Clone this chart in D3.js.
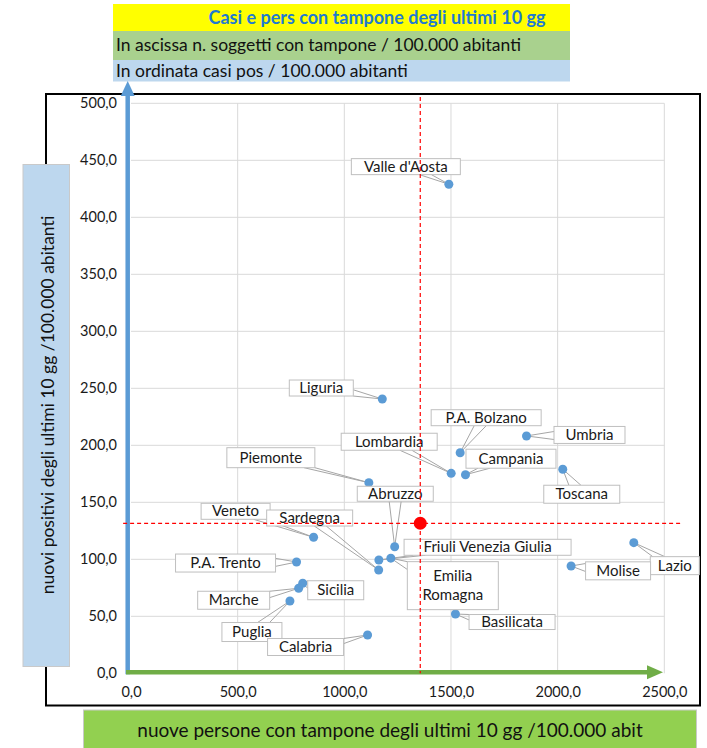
<!DOCTYPE html>
<html>
<head>
<meta charset="utf-8">
<script src="https://cdn.jsdelivr.net/npm/d3@7"></script>
<style>
  body { margin: 0; background: #fff; }
  svg { font-family: Lato, "Open Sans", sans-serif; }
</style>
</head>
<body>
<script>
// regioni, tamponi /100.000 ab (x), positivi /100.000 ab (y)
const regioni = [
  "Valle d'Aosta", "Liguria", "P.A. Bolzano", "Lombardia", "Campania",
  "Umbria", "Toscana", "Lazio", "Molise", "Basilicata", "Piemonte",
  "Abruzzo", "Veneto", "P.A. Trento", "Friuli Venezia Giulia",
  "Emilia Romagna", "Sardegna", "Sicilia", "Marche", "Puglia", "Calabria"
];
const tamponi = [
  1490, 1178, 1543, 1501, 1568, 1854, 2024, 2357, 2063, 1521, 1115,
  1236, 856, 776, 1162, 1218, 1161, 805, 786, 745, 1109
];
const positivi = [
  429, 240.6, 193.5, 175.4, 174.2, 208.2, 179, 114.6, 94.1, 52, 167.2,
  111, 119.3, 97.6, 99.4, 101, 90.6, 79, 74.6, 63.4, 33.6
];
// media nazionale (punto rosso)
const mediaTamponi = 1356;
const mediaPositivi = 131.6;

const xTicks = [0, 500, 1000, 1500, 2000, 2500];
const yTicks = [0, 50, 100, 150, 200, 250, 300, 350, 400, 450, 500];

// posizione dei box etichetta rispetto al punto: [dx, dy, w, h] in px
const labelLayout = {
  "Valle d'Aosta": [-43, -17.6, 109, 16],
  "Liguria": [-61, -11, 64, 16],
  "Lombardia": [-62, -31.6, 96, 17],
  "Piemonte": [-98, -25, 88, 20],
  "Abruzzo": [0.6, -53, 76, 15],
  "Veneto": [-78, -26, 69, 16],
  "Sardegna": [-69, -52, 86, 16],
  "P.A. Bolzano": [26, -35, 110, 16],
  "Umbria": [63, -1, 71, 17],
  "Campania": [45.5, -16, 90, 19],
  "Toscana": [19, 25, 76, 18],
  "Friuli Venezia Giulia": [108.7, -12.7, 167, 16],
  "Emilia Romagna": [62, 27.5, 91, 48],
  "Basilicata": [56.6, 8, 86, 15],
  "Molise": [47, 4.8, 65, 18],
  "Lazio": [41, 23, 49, 18],
  "P.A. Trento": [-71, 1, 100, 18],
  "Sicilia": [33, 7, 56, 19],
  "Marche": [-65, 12, 72, 18],
  "Puglia": [-38, 31, 60, 19],
  "Calabria": [-62, 12, 76, 17]
};

const W = 707, H = 748;
const fmt = (v) => d3.format(".1f")(v).replace(".", ",");

const svg = d3.select("body").append("svg")
  .attr("width", W).attr("height", H);

const x = d3.scaleLinear().domain([0, 2500]).range([131, 664.3]);
const y = d3.scaleLinear().domain([0, 500]).range([673.3, 103.3]);

// header bands
svg.append("rect").attr("x", 113).attr("y", 4).attr("width", 457).attr("height", 27).attr("fill", "#ffff00");
svg.append("rect").attr("x", 113).attr("y", 31).attr("width", 457).attr("height", 29).attr("fill", "#a9d18e");
svg.append("rect").attr("x", 113).attr("y", 60).attr("width", 457).attr("height", 21.5).attr("fill", "#bdd7ee");
svg.append("text").attr("x", 377).attr("y", 23.5).attr("text-anchor", "middle")
  .attr("font-size", 18).attr("font-weight", "bold").attr("fill", "#1f7ad0")
  .text("Casi e pers con tampone degli ultimi 10 gg");
svg.append("text").attr("x", 116).attr("y", 51).attr("font-size", 17.5).attr("fill", "#111")
  .text("In ascissa n. soggetti con tampone / 100.000 abitanti");
svg.append("text").attr("x", 116).attr("y", 76.5).attr("font-size", 17.5).attr("fill", "#111")
  .text("In ordinata casi pos / 100.000 abitanti");

// chart frame
svg.append("rect").attr("x", 46).attr("y", 94).attr("width", 654).attr("height", 611.5)
  .attr("fill", "none").attr("stroke", "#000").attr("stroke-width", 2);

// y axis title box
svg.append("rect").attr("x", 23).attr("y", 164.5).attr("width", 46.5).attr("height", 502)
  .attr("fill", "#bdd7ee").attr("stroke", "#c9c9c9");
svg.append("text").attr("transform", "translate(53.5,405) rotate(-90)")
  .attr("text-anchor", "middle").attr("font-size", 17.5).attr("fill", "#111")
  .text("nuovi positivi degli ultimi 10 gg /100.000 abitanti");

// x axis title box
svg.append("rect").attr("x", 83.5).attr("y", 710).attr("width", 613).attr("height", 42)
  .attr("fill", "#92d050").attr("stroke", "#c9c9c9");
svg.append("text").attr("x", 390).attr("y", 737).attr("text-anchor", "middle")
  .attr("font-size", 19).attr("fill", "#111")
  .text("nuove persone con tampone degli ultimi 10 gg /100.000 abit");

// gridlines
const grid = svg.append("g").attr("stroke", "#d9d9d9").attr("stroke-width", 1);
grid.selectAll(".gy").data(yTicks.filter((d) => d > 0)).join("line")
  .attr("x1", x(0)).attr("x2", x(2500))
  .attr("y1", (d) => y(d)).attr("y2", (d) => y(d));
grid.selectAll(".gx").data(xTicks.filter((d) => d > 0)).join("line")
  .attr("y1", y(0)).attr("y2", y(500))
  .attr("x1", (d) => x(d)).attr("x2", (d) => x(d));

// tick labels
const yAxis = d3.axisLeft(y).tickValues(yTicks).tickFormat(fmt).tickSize(0).tickPadding(0);
svg.append("g").attr("transform", `translate(${x(0) - 14},0)`).call(yAxis)
  .call((g) => g.select(".domain").remove())
  .call((g) => g.selectAll("text").attr("font-size", 14.5).attr("fill", "#1a1a1a")
    .attr("font-family", "Lato, 'Open Sans', sans-serif"));

const xAxis = d3.axisBottom(x).tickValues(xTicks).tickFormat(fmt).tickSize(0).tickPadding(0);
svg.append("g").attr("transform", `translate(0,${y(0) + 13})`).call(xAxis)
  .call((g) => g.select(".domain").remove())
  .call((g) => g.selectAll("text").attr("font-size", 14.5).attr("fill", "#1a1a1a")
    .attr("font-family", "Lato, 'Open Sans', sans-serif"));

// axis arrows
svg.append("line").attr("x1", 127.7).attr("x2", 127.7).attr("y1", y(0) + 1).attr("y2", 96)
  .attr("stroke", "#5b9bd5").attr("stroke-width", 4.5);
svg.append("path").attr("d", "M120.7,96 L134.7,96 L127.7,81 Z").attr("fill", "#5b9bd5");
svg.append("line").attr("x1", 126).attr("x2", 648).attr("y1", 672.3).attr("y2", 672.3)
  .attr("stroke", "#70ad47").attr("stroke-width", 4.5);
svg.append("path").attr("d", "M647,665.3 L647,679.3 L663,672.3 Z").attr("fill", "#70ad47");

// data
const pts = regioni.map((name, i) => ({ name, tx: tamponi[i], py: positivi[i] }));

// leader lines (callout wedge)
function wedge(d) {
  const px = x(d.tx), py = y(d.py);
  const [dx, dy, w, h] = labelLayout[d.name];
  const cx = px + dx, cy = py + dy;
  const vx = px - cx, vy = py - cy;
  const sx = Math.abs((w / 2) / (vx || 1e-6)), sy = Math.abs((h / 2) / (vy || 1e-6));
  const s = Math.min(sx, sy);
  const ix = cx + vx * s, iy = cy + vy * s;
  let a, b;
  if (sx < sy) {
    // left/right edge
    a = [ix, Math.max(cy - h / 2, iy - 4)];
    b = [ix, Math.min(cy + h / 2, iy + 4)];
  } else {
    a = [Math.max(cx - w / 2, ix - 6), iy];
    b = [Math.min(cx + w / 2, ix + 6), iy];
  }
  return `M${a[0]},${a[1]} L${px},${py} L${b[0]},${b[1]}`;
}

svg.append("g").selectAll("path").data(pts).join("path")
  .attr("d", wedge).attr("fill", "none").attr("stroke", "#a6a6a6").attr("stroke-width", 1);

svg.append("g").selectAll("circle").data(pts).join("circle")
  .attr("cx", (d) => x(d.tx)).attr("cy", (d) => y(d.py)).attr("r", 4.5)
  .attr("fill", "#5b9bd5");

const lab = svg.append("g").selectAll("g").data(pts).join("g")
  .attr("transform", (d) => {
    const [dx, dy] = labelLayout[d.name];
    return `translate(${x(d.tx) + dx},${y(d.py) + dy})`;
  });
lab.append("rect")
  .attr("x", (d) => -labelLayout[d.name][2] / 2)
  .attr("y", (d) => -labelLayout[d.name][3] / 2)
  .attr("width", (d) => labelLayout[d.name][2])
  .attr("height", (d) => labelLayout[d.name][3])
  .attr("fill", "#fff").attr("stroke", "#bfbfbf").attr("stroke-width", 1);
lab.each(function (d) {
  const g = d3.select(this);
  const lines = d.name === "Emilia Romagna" ? ["Emilia", "Romagna"] : [d.name];
  lines.forEach((t, i) => {
    g.append("text").attr("text-anchor", "middle")
      .attr("y", (i - (lines.length - 1) / 2) * 19 + 5)
      .attr("font-size", 15).attr("fill", "#1a1a1a").text(t);
  });
});

// media: linee tratteggiate rosse e punto
const red = svg.append("g").attr("stroke", "#ff0000").attr("stroke-width", 1.2)
  .attr("stroke-dasharray", "4,3");
red.append("line").attr("x1", x(mediaTamponi)).attr("x2", x(mediaTamponi))
  .attr("y1", 97).attr("y2", y(0));
red.append("line").attr("x1", x(-37)).attr("x2", x(2587))
  .attr("y1", y(mediaPositivi)).attr("y2", y(mediaPositivi));
svg.append("circle").attr("cx", x(mediaTamponi)).attr("cy", y(mediaPositivi)).attr("r", 6.5)
  .attr("fill", "#ff0000");
</script>
</body>
</html>
